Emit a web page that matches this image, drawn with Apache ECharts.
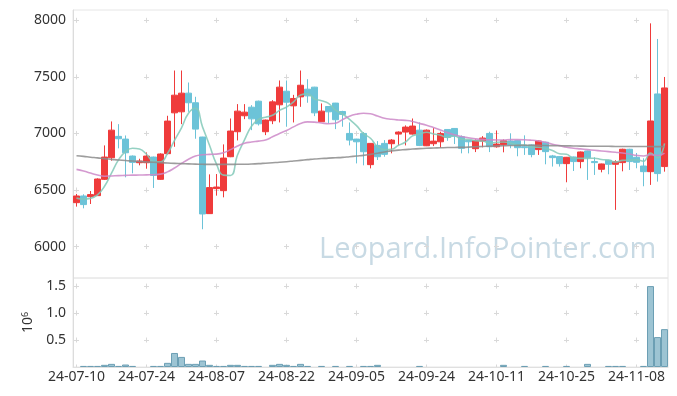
<!DOCTYPE html>
<html>
<head>
<meta charset="utf-8">
<script src="https://cdn.jsdelivr.net/npm/echarts@6/dist/echarts.min.js"></script>
<style>html,body{margin:0;padding:0;background:#fff}#c{width:677px;height:396px}</style>
</head>
<body>
<div id="c"></div>
<script>
const dates = ["24-07-10","24-07-11","24-07-12","24-07-15","24-07-16","24-07-17","24-07-18","24-07-19","24-07-22","24-07-23",
"24-07-24","24-07-25","24-07-26","24-07-29","24-07-30","24-07-31","24-08-01","24-08-02","24-08-05","24-08-06",
"24-08-07","24-08-08","24-08-09","24-08-12","24-08-13","24-08-14","24-08-16","24-08-19","24-08-20","24-08-21",
"24-08-22","24-08-23","24-08-26","24-08-27","24-08-28","24-08-29","24-08-30","24-09-02","24-09-03","24-09-04",
"24-09-05","24-09-06","24-09-09","24-09-10","24-09-11","24-09-12","24-09-13","24-09-19","24-09-20","24-09-23",
"24-09-24","24-09-25","24-09-26","24-09-27","24-09-30","24-10-02","24-10-04","24-10-07","24-10-08","24-10-10",
"24-10-11","24-10-14","24-10-15","24-10-16","24-10-17","24-10-18","24-10-21","24-10-22","24-10-23","24-10-24",
"24-10-25","24-10-28","24-10-29","24-10-30","24-10-31","24-11-01","24-11-04","24-11-05","24-11-06","24-11-07",
"24-11-08","24-11-11","24-11-12","24-11-13","24-11-14"];

const opens = [6388,6447,6441,6450,6594,6785,6974,6950,6800,6741,
6741,6791,6594,6821,7182,7191,7356,7271,6968,6291,
6512,6494,6794,7015,7156,7232,7285,7015,7112,7253,
7373,7244,7323,7391,7409,7103,7238,7268,7194,7000,
6950,7000,6724,6894,6912,6909,6994,7012,6994,7029,
6891,6909,6926,7035,7044,6971,6938,6865,6932,7000,
6882,6900,6933,6936,6883,6898,6857,6922,6801,6795,
6733,6792,6751,6845,6751,6683,6763,6727,6742,6860,
6789,6712,6662,7349,6707];
const closes = [6447,6371,6459,6597,6791,7029,6953,6829,6744,6756,
6800,6629,6818,7109,7338,7356,7271,7038,6288,6521,
6526,6782,7021,7197,7188,7129,7085,7118,7279,7409,
7276,7309,7426,7332,7182,7197,7191,7121,7168,6941,
6926,6838,6912,6794,6815,6941,7012,7056,7065,6894,
7029,6932,7000,6965,6976,6868,6926,6938,6959,6882,
6906,6935,6898,6874,6874,6813,6933,6839,6786,6733,
6789,6751,6836,6786,6742,6730,6727,6751,6860,6751,
6745,6662,7110,6645,7402];
const lows = [6353,6338,6376,6447,6588,6759,6868,6612,6647,6718,
6688,6518,6590,6815,6882,7082,7191,6953,6153,6288,
6450,6435,6790,6938,7126,7029,7070,6985,7082,7097,
7059,7097,7235,7271,7153,7103,7088,7038,7059,6894,
6735,6718,6691,6765,6794,6824,6894,6894,6990,6888,
6888,6888,6874,6935,6906,6824,6824,6835,6877,6835,
6874,6833,6869,6798,6810,6789,6810,6727,6707,6707,
6568,6668,6692,6589,6633,6656,6639,6324,6665,6677,
6692,6533,6545,6574,6662];
const highs = [6465,6462,6491,6603,6894,7106,7082,6982,6805,6776,
6832,6795,6824,7156,7556,7556,7450,7324,6970,6638,
6641,6903,7132,7259,7259,7250,7290,7122,7294,7468,
7468,7341,7556,7479,7412,7265,7240,7270,7200,7097,
6952,7012,6915,6932,6941,6950,7018,7071,7132,7097,
7035,7047,7015,7038,7047,6982,6941,6947,6976,7015,
7026,6947,7001,6940,6983,6902,6937,6926,6810,6798,
6792,6795,6840,6848,6789,6733,6766,6763,6865,6864,
6827,6780,7973,7835,7499];
const volumes = [0,20000,20000,20000,40000,58000,20000,46000,20000,0,
0,20000,20000,77000,260000,187000,58000,58000,120000,40000,
20000,20000,40000,40000,20000,20000,20000,0,40000,58000,
40000,20000,58000,20000,0,20000,0,20000,0,20000,
0,20000,20000,40000,0,0,0,0,0,20000,
0,0,0,0,0,0,0,0,0,0,
0,40000,0,0,20000,0,0,20000,0,0,
20000,0,0,58000,0,0,20000,20000,20000,0,
0,20000,1500000,555000,702000];
const ma5 = [6428,6420,6426,6456,6533,6649,6766,6840,6869,6862,
6816,6752,6749,6822,6939,7050,7178,7222,7058,6895,
6729,6631,6628,6809,6943,7063,7124,7143,7160,7204,
7233,7278,7340,7350,7305,7289,7266,7205,7172,7124,
7069,6999,6957,6882,6857,6860,6895,6924,6978,6994,
7011,6995,6984,6964,6980,6948,6947,6935,6933,6915,
6922,6924,6916,6899,6897,6879,6878,6867,6849,6821,
6816,6780,6779,6779,6781,6769,6764,6747,6762,6764,
6767,6754,6826,6783,6913];
const ma20 = [6682,6668,6650,6632,6622,6624,6627,6629,6631,6632,
6634,6635,6640,6660,6694,6735,6772,6800,6811,6815,
6817,6829,6857,6889,6913,6924,6932,6942,6970,7000,
7025,7058,7087,7102,7100,7092,7086,7090,7122,7152,
7170,7178,7174,7154,7134,7125,7119,7115,7106,7089,
7073,7053,7030,7007,6988,6972,6962,6952,6947,6944,
6942,6942,6945,6945,6944,6940,6933,6922,6905,6892,
6878,6869,6863,6857,6851,6845,6839,6833,6827,6818,
6806,6801,6812,6805,6826];
const ma60 = [6803,6797,6790,6784,6777,6771,6765,6760,6756,6752,
6748,6745,6742,6738,6735,6733,6731,6729,6727,6726,
6726,6726,6726,6727,6728,6730,6733,6737,6741,6745,
6750,6756,6762,6768,6774,6778,6782,6785,6788,6794,
6800,6806,6815,6825,6836,6846,6852,6857,6862,6866,
6869,6871,6873,6875,6876,6877,6879,6882,6885,6887,
6889,6891,6893,6894,6895,6895,6894,6893,6892,6891,
6890,6889,6888,6887,6887,6886,6886,6885,6885,6885,
6884,6884,6884,6883,6883];

const FONT = 'Noto Sans';
const candles = dates.map((d, i) => [opens[i], closes[i], lows[i], highs[i]]);
const volData = volumes.map(v => v === 0 ? '-' : v);

const chart = echarts.init(document.getElementById('c'), null, {renderer: 'canvas'});
const crossColor = '#d9d9d9';
chart.setOption({
  animation: false,
  backgroundColor: '#fff',
  textStyle: {fontFamily: FONT},
  grid: [
    {left: 73, right: 9, top: 10, height: 268, show: true, borderColor: '#e6e6e6', borderWidth: 1},
    {left: 73, right: 9, top: 278, height: 89, show: true, borderColor: '#e6e6e6', borderWidth: 1}
  ],
  graphic: [{
    type: 'text', left: 319, top: 235, silent: true, z: 0,
    style: {text: 'Leopard.InfoPointer.com', fontSize: 29, fontFamily: 'Open Sans', fill: '#c8dae4'}
  }],
  xAxis: [
    {type: 'category', gridIndex: 0, data: dates, boundaryGap: true,
     axisLine: {show: false}, axisTick: {show: false}, axisLabel: {show: false},
     splitLine: {show: true, interval: 9, alignWithLabel: true,
       lineStyle: {color: crossColor, width: 1, type: [5, 51.57], dashOffset: 48.77}}},
    {type: 'category', gridIndex: 1, data: dates, boundaryGap: true,
     axisLine: {show: true, lineStyle: {color: '#e0e0e0'}}, axisTick: {show: false},
     axisLabel: {interval: 9, color: '#333', fontSize: 14, margin: 3, fontFamily: FONT},
     splitLine: {show: true, interval: 9, alignWithLabel: true,
       lineStyle: {color: crossColor, width: 1, type: [5, 21.97], dashOffset: 21.37}}}
  ],
  yAxis: [
    {type: 'value', gridIndex: 0, min: 5722, max: 8091, scale: true,
     axisLine: {show: true, lineStyle: {color: '#dcdcdc'}}, axisTick: {show: false},
     axisLabel: {color: '#333', fontSize: 14, margin: 7, showMinLabel: false, showMaxLabel: false, fontFamily: FONT,
       formatter: v => String(v)},
     splitLine: {show: true, showMinLine: false, showMaxLine: false,
       lineStyle: {color: crossColor, width: 1, type: [5, 65], dashOffset: 69}}},
    {type: 'value', gridIndex: 1, min: 0, max: 1650000, interval: 500000,
     axisLine: {show: true, lineStyle: {color: '#dcdcdc'}}, axisTick: {show: false},
     axisLabel: {color: '#333', fontSize: 14, margin: 7, showMinLabel: false, showMaxLabel: false, fontFamily: FONT,
       formatter: v => (v / 1e6).toFixed(1)},
     name: '{b|10}{s|6}', nameLocation: 'middle', nameRotate: 90, nameGap: 34,
     nameTextStyle: {rich: {b: {fontSize: 14, color: '#333', fontFamily: FONT}, s: {fontSize: 9, color: '#333', fontFamily: FONT, verticalAlign: 'top', padding: [0,0,6,0]}}},
     splitLine: {show: true, showMinLine: false, showMaxLine: false,
       lineStyle: {color: crossColor, width: 1, type: [5, 65], dashOffset: 69}}}
  ],
  series: [
    {type: 'candlestick', name: 'price', xAxisIndex: 0, yAxisIndex: 0, data: candles, barWidth: 5.6,
     itemStyle: {color: '#ef3b3b', color0: '#6cc3d8', borderColor: '#ef3b3b', borderColor0: '#6cc3d8', borderWidth: 1}},
    {type: 'line', name: 'MA5', xAxisIndex: 0, yAxisIndex: 0, data: ma5, smooth: true, showSymbol: false,
     lineStyle: {color: '#82c9b9', width: 1.6, opacity: 0.85}},
    {type: 'line', name: 'MA20', xAxisIndex: 0, yAxisIndex: 0, data: ma20, smooth: true, showSymbol: false,
     lineStyle: {color: '#cc88c8', width: 1.6, opacity: 0.85}},
    {type: 'line', name: 'MA60', xAxisIndex: 0, yAxisIndex: 0, data: ma60, smooth: true, showSymbol: false,
     lineStyle: {color: '#8c8c8c', width: 1.6, opacity: 0.85}},
    {type: 'bar', name: 'volume', xAxisIndex: 1, yAxisIndex: 1, data: volData, barCategoryGap: '0%',
     itemStyle: {color: '#9dc4d3', borderColor: '#6c9fb4', borderWidth: 1}}
  ]
});
</script>
</body>
</html>
